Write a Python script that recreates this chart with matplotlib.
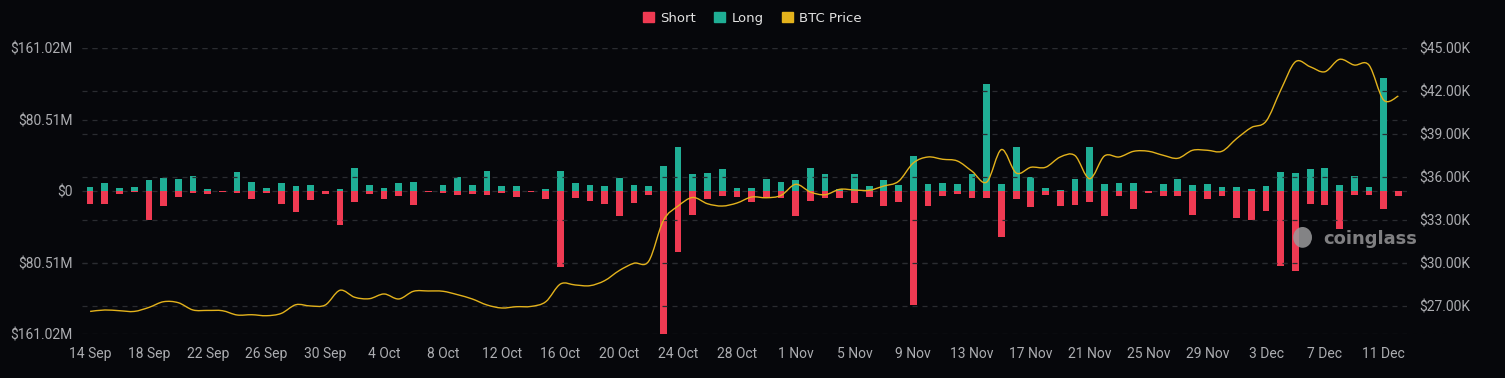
import numpy as np
import matplotlib as mpl
mpl.use('Agg')
import matplotlib.pyplot as plt
from matplotlib.path import Path
from matplotlib.patches import PathPatch, Patch, Ellipse

# ---------------- data (one entry per day, 14 Sep .. 12 Dec) ----------------
long_m = [4.9, 9.0, 3.8, 4.5, 12.4, 14.7, 13.5, 17.3, 2.3, 0.5,
          22.2, 10.9, 3.4, 9.8, 6.0, 7.1, 0.5, 3.0, 26.0, 7.5,
          4.1, 9.8, 10.2, 0.5, 7.1, 16.2, 7.5, 22.6, 6.0, 6.0,
          0.3, 2.6, 23.3, 9.4, 7.5, 5.6, 15.0, 6.8, 6.0, 29.0,
          49.7, 19.2, 20.3, 24.8, 4.1, 3.4, 13.5, 10.5, 12.4, 26.3,
          19.2, 2.3, 19.6, 6.0, 13.2, 6.8, 40.3, 7.9, 9.8, 8.6,
          19.2, 121.1, 8.3, 50.0, 15.8, 4.1, 1.9, 13.9, 50.0, 8.3,
          9.8, 9.4, 0.5, 8.6, 13.5, 7.5, 8.6, 4.5, 5.3, 3.0,
          6.0, 21.4, 20.3, 24.8, 26.7, 6.8, 16.9, 4.5, 127.2, 0.4]
short_m = [14.7, 13.9, 2.6, 0.8, 32.0, 16.5, 6.4, 1.9, 2.6, 0.5,
           1.5, 8.6, 2.3, 14.7, 22.9, 9.8, 2.6, 37.6, 12.4, 3.0,
           8.6, 5.6, 15.4, 0.5, 1.5, 3.8, 2.6, 3.8, 2.3, 6.0,
           1.1, 8.6, 85.0, 7.5, 10.5, 13.9, 27.5, 12.8, 4.1, 161.02,
           68.5, 26.7, 9.0, 5.6, 6.8, 12.4, 7.9, 7.5, 27.8, 10.9,
           7.5, 7.1, 13.5, 6.0, 16.5, 12.4, 127.5, 16.2, 5.3, 3.4,
           7.5, 7.5, 51.2, 8.6, 17.3, 4.1, 16.5, 15.4, 12.4, 27.5,
           4.9, 19.9, 1.5, 5.3, 4.9, 26.3, 8.6, 5.3, 30.5, 32.0,
           22.6, 84.3, 89.9, 14.3, 15.0, 42.1, 4.5, 4.1, 20.3, 4.9]
price_k = [26.60, 26.70, 26.65, 26.60, 26.88, 27.28, 27.21, 26.70, 26.67, 26.65,
           26.35, 26.37, 26.30, 26.46, 27.07, 26.98, 27.05, 28.08, 27.59, 27.49,
           27.82, 27.47, 28.01, 28.03, 28.01, 27.77, 27.47, 27.05, 26.84, 26.93,
           26.95, 27.28, 28.52, 28.45, 28.40, 28.75, 29.46, 29.97, 30.11, 32.96,
           33.97, 34.57, 34.13, 33.97, 34.18, 34.60, 34.55, 34.71, 35.49, 34.95,
           34.76, 35.14, 35.09, 35.07, 35.37, 35.70, 36.98, 37.40, 37.24, 37.12,
           36.40, 35.65, 37.92, 36.28, 36.68, 36.68, 37.40, 37.50, 35.88, 37.47,
           37.40, 37.80, 37.80, 37.52, 37.31, 37.87, 37.87, 37.80, 38.69, 39.46,
           39.90, 42.08, 44.06, 43.71, 43.36, 44.23, 43.83, 43.83, 41.38, 41.66]

date_labels = ['14 Sep', '18 Sep', '22 Sep', '26 Sep', '30 Sep', '4 Oct', '8 Oct',
               '12 Oct', '16 Oct', '20 Oct', '24 Oct', '28 Oct', '1 Nov', '5 Nov',
               '9 Nov', '13 Nov', '17 Nov', '21 Nov', '25 Nov', '29 Nov', '3 Dec',
               '7 Dec', '11 Dec']
liq_ticks = [-161.02, -80.51, 0, 80.51, 161.02]
liq_labels = ['$161.02M', '$80.51M', '$0', '$80.51M', '$161.02M']
price_ticks = [27, 30, 33, 36, 39, 42, 45]
price_labels = ['$27.00K', '$30.00K', '$33.00K', '$36.00K', '$39.00K', '$42.00K', '$45.00K']
# -----------------------------------------------------------------------------

BG = '#06070b'
RED = '#ef3a52'
TEAL = '#1fae95'
GOLD = '#e3b21c'
TXT = '#acadb1'
GRID = '#2a2c31'

plt.rcParams['font.family'] = ['Roboto', 'DejaVu Sans']

fig = plt.figure(figsize=(15.05, 3.78), dpi=100, facecolor=BG)
ax = fig.add_axes([0.0545, 0.1156, 0.8805, 0.7566], facecolor=BG)
ax2 = ax.twinx()

x = np.arange(len(long_m))
ax.bar(x, long_m, width=0.46, color=TEAL, zorder=2)
ax.bar(x, -np.array(short_m), width=0.46, color=RED, zorder=2)

ax.set_xlim(-0.55, 89.6)
ax.set_ylim(-161.02, 161.02)
ax2.set_ylim(25, 45)

# dashed grid from both axes
for t in liq_ticks:
    ax.axhline(t, color=GRID, lw=0.9, ls=(0, (4, 4)), zorder=0)
for t in price_ticks:
    ax2.axhline(t, color=GRID, lw=0.9, ls=(0, (4, 4)), zorder=0)

# smooth price line (catmull-rom as cubic bezier)
px = x.astype(float)
py = np.array(price_k)
verts = [(px[0], py[0])]
codes = [Path.MOVETO]
n = len(px)
for i in range(n - 1):
    p0 = max(i - 1, 0)
    p3 = min(i + 2, n - 1)
    c1 = (px[i] + (px[i + 1] - px[p0]) / 6, py[i] + (py[i + 1] - py[p0]) / 6)
    c2 = (px[i + 1] - (px[p3] - px[i]) / 6, py[i + 1] - (py[p3] - py[i]) / 6)
    verts += [c1, c2, (px[i + 1], py[i + 1])]
    codes += [Path.CURVE4] * 3
ax2.add_patch(PathPatch(Path(verts, codes), fill=False, edgecolor=GOLD, lw=1.0, zorder=5))

ax.set_xticks(range(0, 89, 4))
ax.set_xticklabels(date_labels)
ax.set_yticks(liq_ticks)
ax.set_yticklabels(liq_labels)
ax2.set_yticks(price_ticks)
ax2.set_yticklabels(price_labels)

for a in (ax, ax2):
    for s in a.spines.values():
        s.set_visible(False)
    a.tick_params(length=0, colors=TXT, labelsize=10)
ax.tick_params(axis='x', pad=9)
ax.tick_params(axis='y', pad=7)
ax2.tick_params(axis='y', pad=9)

# watermark
fig.patches.append(Ellipse((0.8655, 0.372), 0.0125, 0.055, transform=fig.transFigure,
                           facecolor='#9a9a9c', edgecolor='none', alpha=0.85))
fig.text(0.879, 0.368, 'coinglass', color='#8d8d8f', fontsize=13, fontweight='bold',
         family=['DejaVu Sans'], va='center', ha='left', alpha=0.9)

handles = [Patch(color=RED, label='Short'), Patch(color=TEAL, label='Long'),
           Patch(color=GOLD, label='BTC Price')]
leg = fig.legend(handles=handles, loc='upper center', bbox_to_anchor=(0.5, 1.0), ncol=3,
                 frameon=False, handlelength=0.8, handleheight=0.8, handletextpad=0.5,
                 columnspacing=1.4, prop={'family': ['DejaVu Sans'], 'size': 9.5})
for t in leg.get_texts():
    t.set_color('#e2e2e2')

fig.savefig('out.png', dpi=100, facecolor=BG)
